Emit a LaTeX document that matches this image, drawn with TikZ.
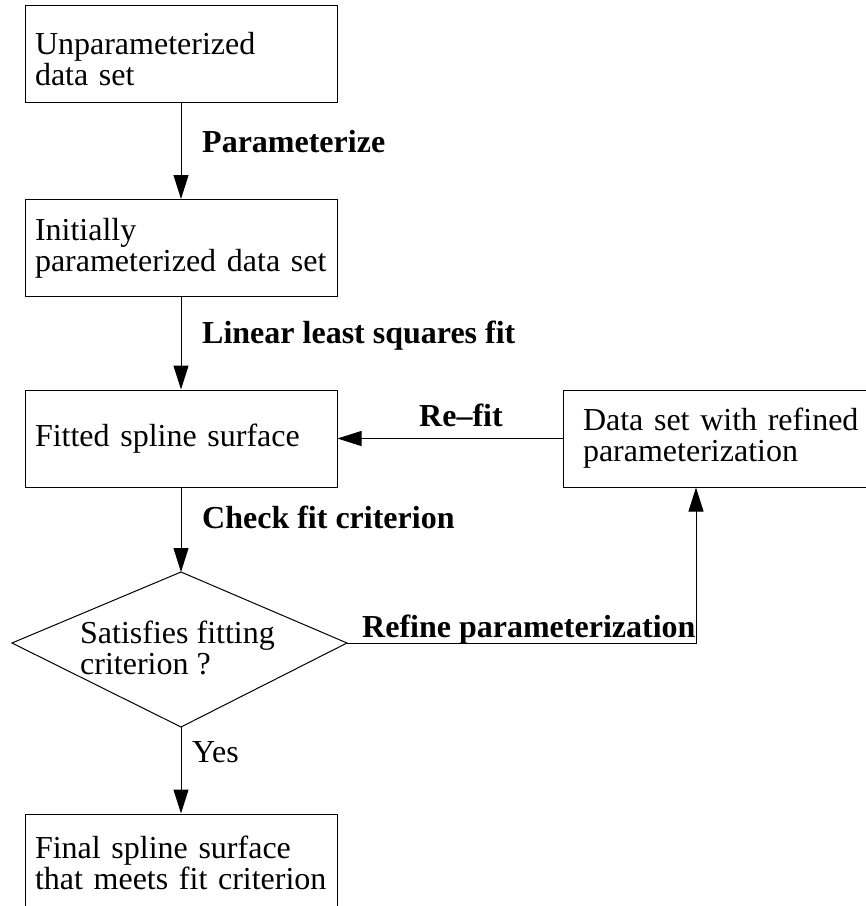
\documentclass[tikz,border=0pt]{standalone}
\usepackage{fontspec}
\setmainfont{Liberation Serif}
\usetikzlibrary{positioning,arrows.meta,calc}

\begin{document}
\begin{tikzpicture}[x=1pt, y=-1pt,
  stagebox/.style={draw, line width=1pt, rectangle, minimum width=312pt,
    minimum height=97pt, inner xsep=10pt, text width=292pt, align=left,
    font=\fontsize{32}{31}\selectfont},
  steplabel/.style={anchor=base west, inner sep=0pt,
    font=\fontsize{32}{31}\selectfont\bfseries},
  flowarrow/.style={line width=1pt, -{Triangle[length=24pt,width=15pt]}}]

  % page frame: the last box and the right box run past the edges
  \useasboundingbox (0,0) rectangle (866,906);
  \clip (0,0) rectangle (866,906);

  % main column of boxes
  \node[stagebox, text height=32pt] (raw) at (181,54) {Unparameterized\\data set};
  \node[stagebox] (init) at (181,248) {Initially\\parameterized data set};
  \node[stagebox] (fitted) at (181,438.5) {Fitted spline surface};
  \node[stagebox] (final) at (181,862.5) {Final spline surface\\that meets fit criterion};

  % refinement box on the right
  \node[stagebox, inner xsep=20pt, text width=300pt, minimum width=340pt]
    (refined) at (733,438.5) {Data set with refined\\parameterization};

  % decision diamond
  \coordinate (dtop) at (181,572);
  \coordinate (dleft) at (12,643);
  \coordinate (dright) at (347,643);
  \coordinate (dbot) at (181,727);
  \draw[line width=1pt] (dtop) -- (dright) -- (dbot) -- (dleft) -- cycle;
  \node[anchor=north west, inner sep=0pt, align=left,
    font=\fontsize{32}{31}\selectfont] (crit) at (80,621)
    {Satisfies fitting\\criterion ?};

  % connectors
  \draw[flowarrow] (raw.south) -- (init.north);
  \draw[flowarrow] (init.south) -- (fitted.north);
  \draw[flowarrow] (fitted.south) -- (dtop);
  \draw[flowarrow] (dbot) -- (final.north);
  \draw[flowarrow] (refined.west) -- (fitted.east);
  \draw[flowarrow] (dright) -| ([xshift=-37pt]refined.south);

  % step labels
  \node[steplabel] (lparam) at (202,152) {Parameterize};
  \node[steplabel] (llsq) at (202,343) {Linear least squares fit};
  \node[steplabel] (lcheck) at (202,528) {Check fit criterion};
  \node[steplabel] (lrefit) at (419,426) {Re--fit};
  \node[steplabel] (lrefine) at (362,637) {Refine parameterization};
  \node[steplabel, font=\fontsize{32}{31}\selectfont] (lyes) at (192,762) {Yes};
\end{tikzpicture}
\end{document}
